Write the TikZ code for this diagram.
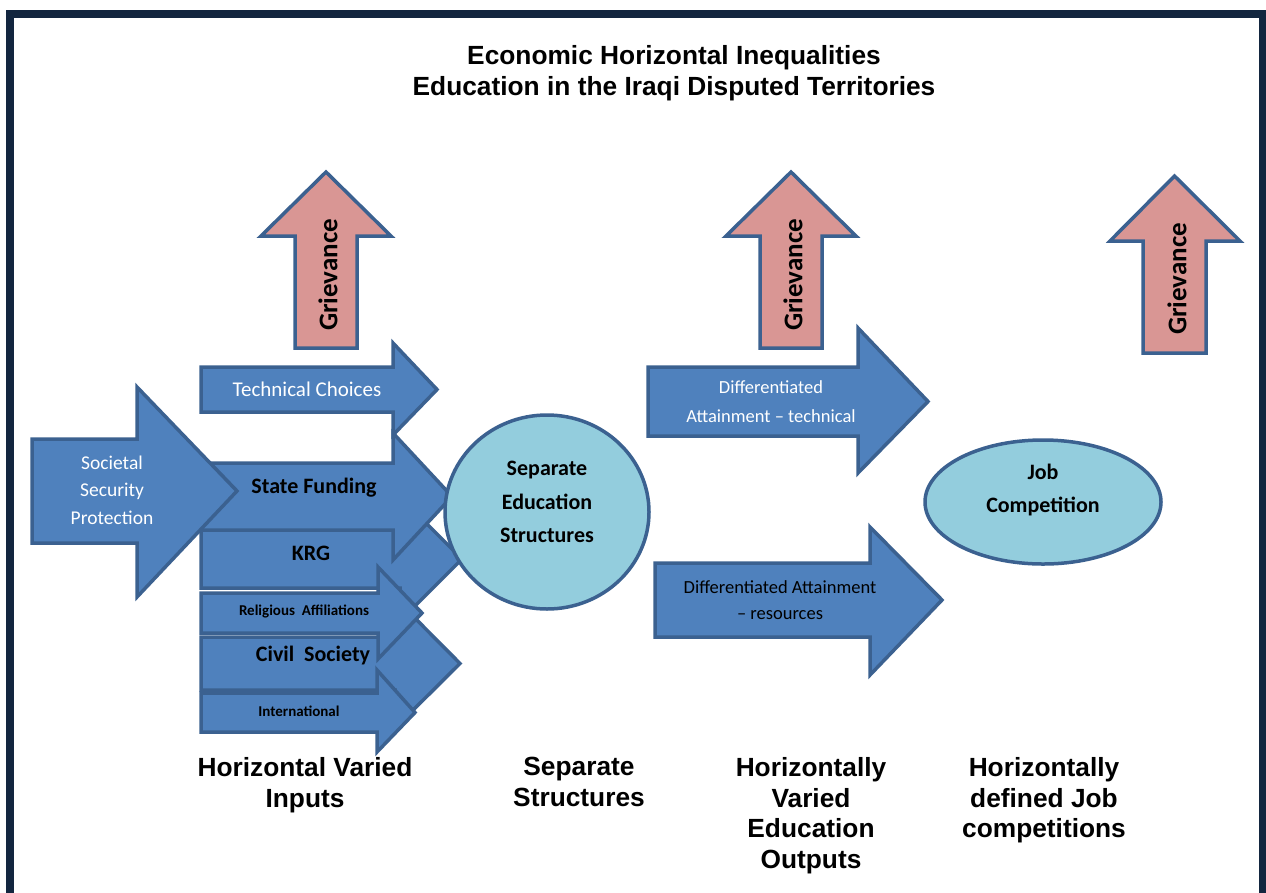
\documentclass[tikz,border=0pt]{standalone}
\usepackage{fontspec}
\usetikzlibrary{shapes.geometric}
\setmainfont{Liberation Sans}
\newfontfamily\calfont[Ligatures=TeX]{Carlito}
\begin{document}
\definecolor{arrowfill}{HTML}{4F81BD}
\definecolor{arrowline}{HTML}{3B6190}
\definecolor{grievfill}{HTML}{D99694}
\definecolor{bubblefill}{HTML}{93CDDD}
\definecolor{framecol}{HTML}{13263F}
\tikzset{
  blockarrow/.style={fill=arrowfill, draw=arrowline, line width=3.5pt, line join=miter},
  griefarrow/.style={fill=grievfill, draw=arrowline, line width=3.5pt, line join=miter},
  bubble/.style={ellipse, fill=bubblefill, draw=arrowline, line width=3.5pt, inner sep=0pt},
  whitetext/.style={text=white, align=center, font=\calfont\fontsize{19.5}{27.5}\selectfont},
  boldtext/.style={text=black, align=center, font=\calfont\bfseries\fontsize{23}{33}\selectfont},
  smalltext/.style={text=black, font=\calfont\bfseries\fontsize{15}{18}\selectfont},
  grieftext/.style={text=black, rotate=90, font=\calfont\bfseries\fontsize{27}{30}\selectfont},
  headtext/.style={text=black, align=center, font=\bfseries\fontsize{26.3}{30.5}\selectfont},
}
% right-pointing block arrow: left x, shaft top, shaft bottom, head base x, head top, head bottom, tip x
\newcommand\rightblock[8][blockarrow]{%
  \draw[#1] (#2,#3) -- (#5,#3) -- (#5,#6) -- (#8,{(#3+#4)/2}) -- (#5,#7) -- (#5,#4) -- (#2,#4) -- cycle;}
% upward block arrow: shaft left, shaft right, bottom y, head base y, head left, head right, tip y
\newcommand\upblock[7]{%
  \draw[griefarrow] (#1,#3) -- (#1,#4) -- (#5,#4) -- ({(#1+#2)/2},#7) -- (#6,#4) -- (#2,#4) -- (#2,#3) -- cycle;}
\begin{tikzpicture}[x=1pt,y=-1pt]
\useasboundingbox (0,0) rectangle (1266,892);
\clip (0,0) rectangle (1266,892);
\fill[white] (0,0) rectangle (1266,892);
% outer frame
\draw[framecol, line width=8pt] (10,14) rectangle (1263,920);

% title
\node[headtext] (title) at (674,73) {Economic Horizontal Inequalities\\Education in the Iraqi Disputed Territories};

% grievance arrows
\upblock{295}{357}{348}{236}{261}{391}{172}
\node[grieftext] (griefA) at (328,275) {Grievance};
\upblock{760}{822}{348}{236}{726}{856}{172}
\node[grieftext] (griefB) at (793,275) {Grievance};
\upblock{1143}{1206}{353}{241}{1110}{1240}{176}
\node[grieftext] (griefC) at (1177,279) {Grievance};

% input arrows, back to front
\rightblock{201}{530}{588}{400}{497}{621}{462}
\rightblock{201}{637}{690}{395}{598}{728}{460}
\rightblock{201}{463}{530}{393}{433}{560}{452}
\rightblock{201}{593}{633}{378}{567}{659}{422}
\rightblock{201}{693}{732}{377}{670}{752}{415}
\rightblock{201}{367}{412}{393}{343}{435}{437}
\rightblock{32}{439}{543}{137}{387}{597}{237}

\node[whitetext, font=\calfont\fontsize{21}{27}\selectfont] (tech) at (307,389) {Technical Choices};
\node[whitetext] (societal) at (112,490) {Societal\\Security\\Protection};
\node[boldtext, font=\calfont\bfseries\fontsize{22}{26}\selectfont] (state) at (314,488) {State Funding};
\node[boldtext, font=\calfont\bfseries\fontsize{22}{26}\selectfont] (krg) at (311,553) {KRG};
\node[smalltext] (relig) at (304,611) {Religious\ \ Affiliations};
\node[boldtext, font=\calfont\bfseries\fontsize{22}{26}\selectfont] (civil) at (313,655) {Civil\ \ Society};
\node[smalltext] (intl) at (299,711) {International};

% separate education structures
\node[bubble, minimum width=204pt, minimum height=194pt] (sep) at (547,512) {};
\node[boldtext, font=\calfont\bfseries\fontsize{22}{33.5}\selectfont] (septext) at (547,502) {Separate\\Education\\Structures};

% output arrows
\rightblock{648}{367}{436}{858}{328}{473}{928}
\node[whitetext, font=\calfont\fontsize{18.5}{29}\selectfont] (difftech) at (771,402) {Differentiated\\Attainment – technical};
\rightblock{655}{563}{637}{870}{527}{675}{942}
\node[boldtext, font=\calfont\fontsize{18.5}{26}\selectfont] (diffres) at (780,600) {Differentiated Attainment\\– resources};

% job competition
\node[bubble, minimum width=236pt, minimum height=124pt] (job) at (1043,502) {};
\node[boldtext, font=\calfont\bfseries\fontsize{22}{33}\selectfont] (jobtext) at (1043,490) {Job\\Competition};

% stage labels
\node[headtext, anchor=north] (lblA) at (305,754) {Horizontal Varied\\Inputs};
\node[headtext, anchor=north] (lblB) at (579,754) {Separate\\Structures};
\node[headtext, anchor=north] (lblC) at (811,754) {Horizontally\\Varied\\Education\\Outputs};
\node[headtext, anchor=north] (lblD) at (1044,754) {Horizontally\\defined Job\\competitions};
\end{tikzpicture}
\end{document}
